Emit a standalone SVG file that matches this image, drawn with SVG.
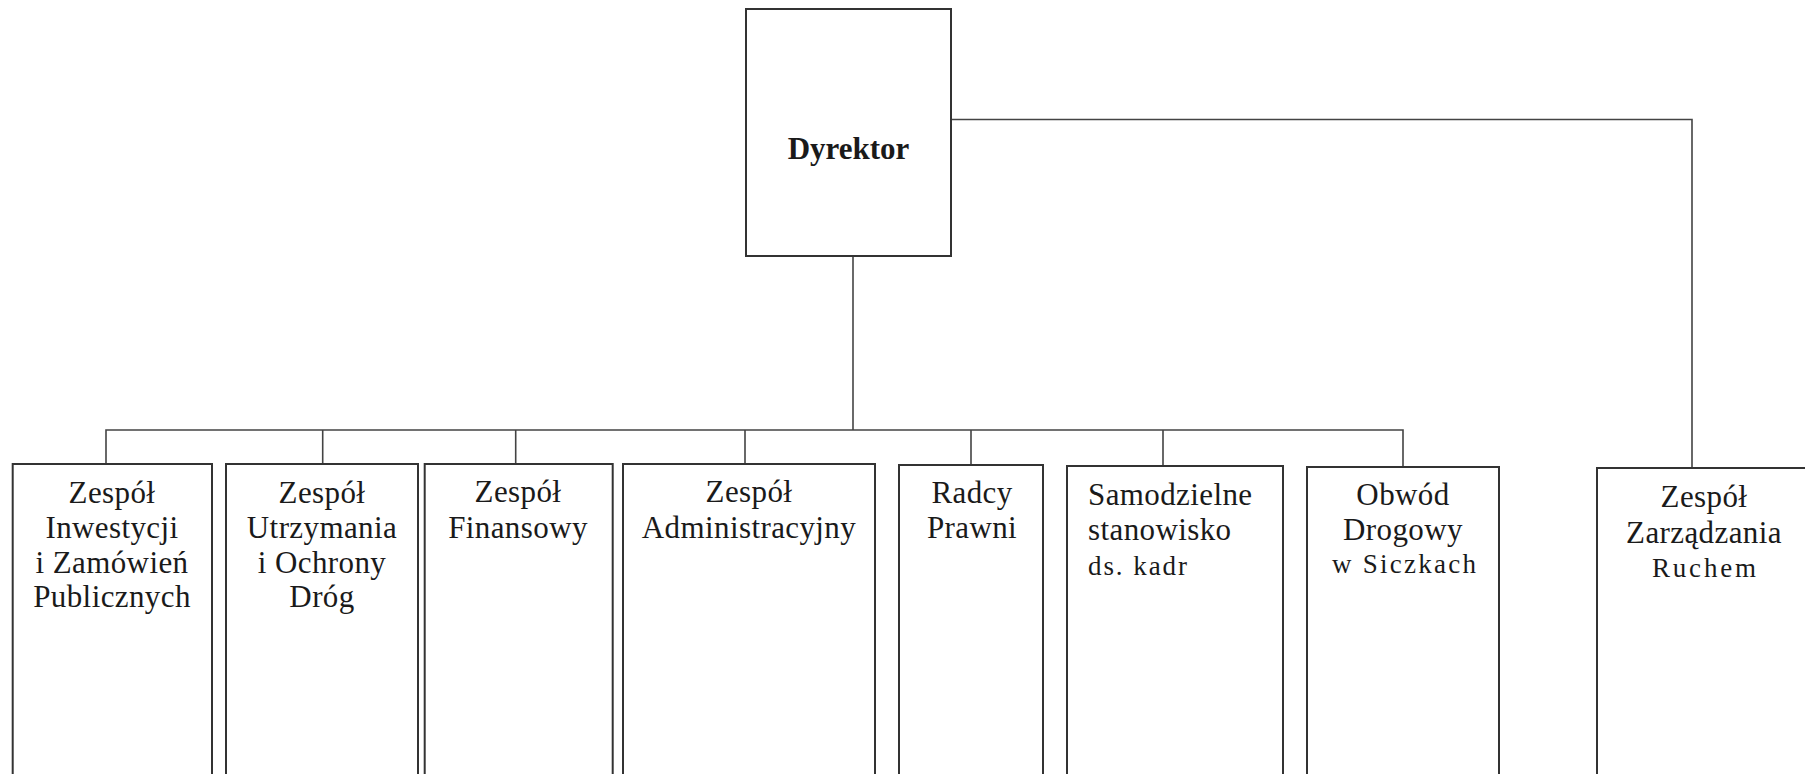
<svg xmlns="http://www.w3.org/2000/svg" width="1805" height="774" viewBox="0 0 1805 774">
<style>
.box{fill:#fff;stroke:#333;stroke-width:2}
.conn{fill:none;stroke:#444;stroke-width:1.6}
text{font-family:"Liberation Serif","Times New Roman",serif;font-size:31px;letter-spacing:0.4px;fill:#1a1a1a;text-anchor:middle}
.sm{font-size:27px;letter-spacing:0}
.bold{font-weight:bold;letter-spacing:0}
</style>
<rect width="1805" height="774" fill="#fff"/>
<g id="connectors">
<path class="conn" d="M853,256 V430"/>
<path class="conn" d="M106,464 V430 H1403 V467"/>
<path class="conn" d="M322.7,430 V464 M515.7,430 V464 M745,430 V464 M971,430 V465 M1163,430 V466"/>
<path class="conn" d="M951,119.5 H1692 V468"/>
</g>
<g id="dyrektor">
<rect class="box" x="746" y="9" width="205" height="247"/>
<text class="bold" x="848.5" y="159">Dyrektor</text>
</g>
<g id="zespol-inwestycji">
<rect class="box" x="12.7" y="464" width="199.3" height="320"/>
<text x="112" y="503">Zespół</text>
<text x="112" y="538">Inwestycji</text>
<text x="112" y="573">i Zamówień</text>
<text x="112" y="607">Publicznych</text>
</g>
<g id="zespol-utrzymania">
<rect class="box" x="226" y="464" width="192" height="320"/>
<text x="322" y="503">Zespół</text>
<text x="322" y="538">Utrzymania</text>
<text x="322" y="573">i Ochrony</text>
<text x="322" y="607">Dróg</text>
</g>
<g id="zespol-finansowy">
<rect class="box" x="424.7" y="464" width="188" height="320"/>
<text x="518" y="502">Zespół</text>
<text x="518" y="538">Finansowy</text>
</g>
<g id="zespol-administracyjny">
<rect class="box" x="623" y="464" width="252" height="320"/>
<text x="749" y="502">Zespół</text>
<text x="749" y="538">Administracyjny</text>
</g>
<g id="radcy-prawni">
<rect class="box" x="899" y="465" width="144" height="320"/>
<text x="972" y="503">Radcy</text>
<text x="972" y="538">Prawni</text>
</g>
<g id="samodzielne-stanowisko">
<rect class="box" x="1067" y="466" width="216" height="320"/>
<text x="1088" y="505" style="text-anchor:start">Samodzielne</text>
<text x="1088" y="540" style="text-anchor:start">stanowisko</text>
<text class="sm" x="1088" y="575" style="text-anchor:start" textLength="99" lengthAdjust="spacing">ds. kadr</text>
</g>
<g id="obwod-drogowy">
<rect class="box" x="1307" y="467" width="192" height="320"/>
<text x="1403" y="505">Obwód</text>
<text x="1403" y="540">Drogowy</text>
<text class="sm" x="1404" y="573" textLength="144" lengthAdjust="spacing">w Siczkach</text>
</g>
<g id="zespol-zarzadzania">
<rect class="box" x="1597" y="468" width="214" height="320"/>
<text x="1704" y="507">Zespół</text>
<text x="1704" y="543">Zarządzania</text>
<text class="sm" x="1704" y="577" textLength="104" lengthAdjust="spacing">Ruchem</text>
</g>
</svg>
